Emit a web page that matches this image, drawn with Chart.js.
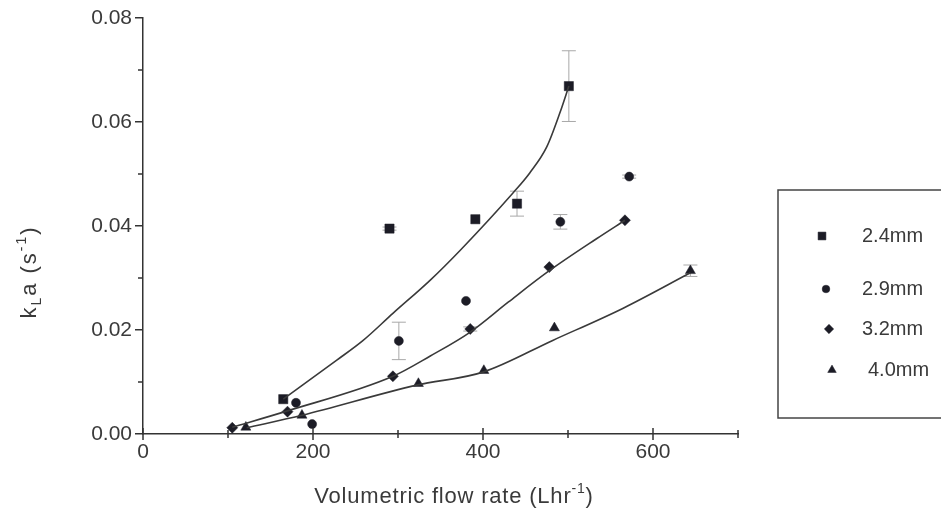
<!DOCTYPE html>
<html>
<head>
<meta charset="utf-8">
<script src="https://cdn.jsdelivr.net/npm/chart.js@4.4.1/dist/chart.umd.min.js"></script>
<style>
  html, body { margin: 0; padding: 0; background: #fff; }
  canvas { display: block; }
</style>
</head>
<body>
<canvas id="chart" width="941" height="517"></canvas>
<script>
// bubble size series: flow rate (L/hr) vs kLa (1/s), with +/- errors
const seriesLabels = ['2.4mm', '2.9mm', '3.2mm', '4.0mm'];

const flow24 = [165, 290, 391, 440, 501];
const kla24 = [0.0067, 0.0395, 0.0413, 0.0443, 0.0669];
const err24 = [0, 0.0003, 0, 0.0024, 0.0068];

const flow29 = [180, 199, 301, 380, 491, 572];
const kla29 = [0.0060, 0.0019, 0.0179, 0.0256, 0.0408, 0.0495];
const err29 = [0, 0, 0.0036, 0, 0.0014, 0.0003];

const flow32 = [105, 170, 294, 385, 478, 567];
const kla32 = [0.0012, 0.0043, 0.0111, 0.0202, 0.0321, 0.0411];
const err32 = [0, 0, 0, 0.0004, 0, 0];

const flow40 = [121, 187, 324, 401, 484, 644];
const kla40 = [0.0013, 0.0036, 0.0097, 0.0122, 0.0204, 0.0314];
const err40 = [0, 0, 0, 0, 0, 0.0011];

// fitted curves
const fit24x = [165, 228, 259, 294, 338, 373, 435, 455, 475, 491, 501];
const fit24y = [0.0067, 0.0142, 0.018, 0.0232, 0.0296, 0.0353, 0.0463, 0.0502, 0.0552, 0.062, 0.0669];
const fit32x = [105, 169, 294, 338, 385, 430, 478, 534, 567];
const fit32y = [0.0013, 0.0044, 0.0111, 0.0150, 0.0196, 0.0254, 0.0314, 0.0376, 0.0411];
const fit40x = [122, 187, 322, 400, 482, 565, 644];
const fit40y = [0.0012, 0.0036, 0.0094, 0.0119, 0.018, 0.0242, 0.031];

const xMajor = [0, 200, 400, 600];
const xMinor = [100, 300, 500, 700];
const yMinor = [0.01, 0.03, 0.05, 0.07];

const INK = '#333';
const TEXT = '#3a3a3a';
const MARK = '#1c1c26';
const FONT = "'Liberation Sans', Arial, sans-serif";

const pts = (xs, ys) => xs.map((v, i) => ({ x: v, y: ys[i] }));

function markerSet(label, xs, ys, errs, style, radius) {
  return {
    type: 'scatter', label, data: pts(xs, ys), errs,
    pointStyle: style, pointRadius: radius, pointHoverRadius: radius,
    backgroundColor: MARK, borderColor: MARK, borderWidth: 0.5
  };
}

function fitLine(xs, ys) {
  return {
    type: 'line', label: '', data: pts(xs, ys), fit: true,
    borderColor: '#3a3a3a', borderWidth: 1.6, pointRadius: 0,
    cubicInterpolationMode: 'monotone', fill: false
  };
}

// error bars behind the markers
const errorBars = {
  id: 'errorBars',
  beforeDatasetsDraw(chart) {
    const { ctx, scales: { x, y } } = chart;
    ctx.save();
    ctx.strokeStyle = '#a8a8a8';
    ctx.lineWidth = 1;
    chart.data.datasets.forEach(ds => {
      if (!ds.errs) return;
      ds.data.forEach((p, i) => {
        const e = ds.errs[i];
        if (!e) return;
        const px = x.getPixelForValue(p.x);
        const top = y.getPixelForValue(p.y + e);
        const bot = y.getPixelForValue(p.y - e);
        ctx.beginPath();
        ctx.moveTo(px, top); ctx.lineTo(px, bot);
        ctx.moveTo(px - 7, top); ctx.lineTo(px + 7, top);
        ctx.moveTo(px - 7, bot); ctx.lineTo(px + 7, bot);
        ctx.stroke();
      });
    });
    ctx.restore();
  }
};

// text with sub/superscripts: parts = [[text, shift, small]]
function richText(ctx, parts, size, cx, cy, spacing) {
  const small = Math.round(size * 0.62);
  ctx.letterSpacing = spacing + 'px';
  let w = 0;
  parts.forEach(([t, , s]) => {
    ctx.font = (s ? small : size) + 'px ' + FONT;
    w += ctx.measureText(t).width;
  });
  let xx = cx - w / 2;
  parts.forEach(([t, dy, s]) => {
    ctx.font = (s ? small : size) + 'px ' + FONT;
    ctx.fillText(t, xx, cy + dy);
    xx += ctx.measureText(t).width;
  });
  ctx.letterSpacing = '0px';
}

// crossing x ticks, minor ticks, axis titles and legend box
const decor = {
  id: 'decor',
  afterDraw(chart) {
    const { ctx, scales: { x, y } } = chart;
    ctx.save();
    ctx.strokeStyle = INK;
    ctx.lineWidth = 1.5;
    ctx.beginPath();
    xMajor.forEach(v => {
      const px = x.getPixelForValue(v);
      ctx.moveTo(px, y.bottom - 6); ctx.lineTo(px, y.bottom + 6);
    });
    xMinor.forEach(v => {
      const px = x.getPixelForValue(v);
      ctx.moveTo(px, y.bottom - 4); ctx.lineTo(px, y.bottom + 4);
    });
    yMinor.forEach(v => {
      const py = y.getPixelForValue(v);
      ctx.moveTo(x.left - 5, py); ctx.lineTo(x.left, py);
    });
    ctx.stroke();

    ctx.fillStyle = TEXT;
    ctx.textBaseline = 'middle';
    ctx.textAlign = 'left';
    richText(ctx, [['Volumetric flow rate (Lhr', 0, false], ['-1', -8, true], [')', 0, false]], 22, 454, 497, 0.8);

    ctx.save();
    ctx.translate(30, 272);
    ctx.rotate(-Math.PI / 2);
    richText(ctx, [['k', 0, false], ['L', 7, true], ['a (s', 0, false], ['-1', -8, true], [')', 0, false]], 22, 0, 0, 2);
    ctx.restore();

    // legend
    ctx.lineWidth = 1.5;
    ctx.strokeStyle = '#444';
    ctx.strokeRect(778, 190, 200, 228);
    const rows = [236, 289, 329, 370];
    const markX = [822, 826, 829, 832];
    const textX = [862, 862, 862, 868];
    const sets = chart.data.datasets.filter(d => !d.fit);
    sets.forEach((ds, i) => {
      ctx.fillStyle = MARK;
      ctx.strokeStyle = MARK;
      ctx.lineWidth = 0.5;
      Chart.helpers.drawPoint(ctx, {
        pointStyle: ds.pointStyle, radius: ds.pointRadius * 0.85, rotation: 0, borderWidth: 0.5
      }, markX[i], rows[i]);
      ctx.fillStyle = TEXT;
      ctx.font = '20px ' + FONT;
      ctx.fillText(ds.label, textX[i], rows[i]);
    });
    ctx.restore();
  }
};

new Chart(document.getElementById('chart'), {
  data: {
    datasets: [
      fitLine(fit24x, fit24y),
      fitLine(fit32x, fit32y),
      fitLine(fit40x, fit40y),
      markerSet(seriesLabels[0], flow24, kla24, err24, 'rect', 6.5),
      markerSet(seriesLabels[1], flow29, kla29, err29, 'circle', 4.5),
      markerSet(seriesLabels[2], flow32, kla32, err32, 'rectRot', 5.5),
      markerSet(seriesLabels[3], flow40, kla40, err40, 'triangle', 5.8)
    ]
  },
  options: {
    responsive: false,
    animation: false,
    devicePixelRatio: 1,
    layout: { padding: { top: 18, right: 203, left: 0, bottom: 0 } },
    plugins: { legend: { display: false }, tooltip: { enabled: false } },
    scales: {
      x: {
        type: 'linear', min: 0, max: 700,
        afterFit: s => { s.height = 83; },
        border: { color: INK, width: 1.5 },
        grid: { display: false, drawTicks: false },
        ticks: {
          stepSize: 200, includeBounds: false, padding: 6,
          color: TEXT, font: { family: FONT, size: 21 }
        }
      },
      y: {
        type: 'linear', min: 0, max: 0.08,
        afterFit: s => { s.width = 143; },
        border: { color: INK, width: 1.5 },
        grid: { drawOnChartArea: false, tickLength: 8, color: INK, lineWidth: 1.5 },
        ticks: {
          stepSize: 0.02, padding: 3,
          color: TEXT, font: { family: FONT, size: 21 },
          callback: v => v.toFixed(2)
        }
      }
    }
  },
  plugins: [errorBars, decor]
});
</script>
</body>
</html>
